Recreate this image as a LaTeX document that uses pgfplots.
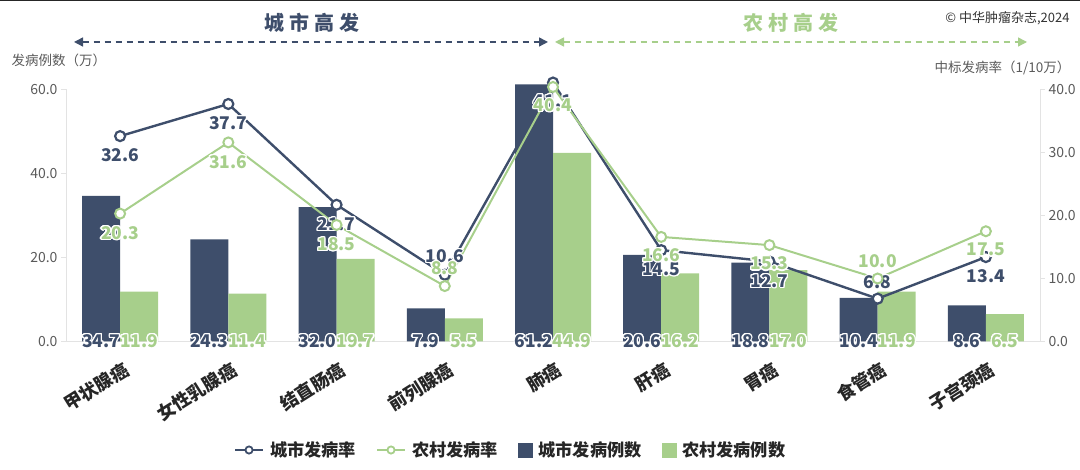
\documentclass[border=0pt]{standalone}
\usepackage{pgfplots}
\pgfplotsset{compat=1.18}
\usepackage{pgfplotstable}
\usepackage{fontspec}
\setmainfont{Noto Sans CJK SC}
\usepackage[copies]{contour}
\contourlength{1.1pt}
\usetikzlibrary{arrows.meta}
\definecolor{navy}{HTML}{3E4E6B}
\definecolor{lgreen}{HTML}{A7CF8B}
\definecolor{axgray}{HTML}{E3E3E3}
\definecolor{txtgray}{HTML}{5A5A5A}

\pgfplotstableread{
x z urban rural urate rrate udy rdy
0 0 34.7 11.9 32.6 20.3 -20 -20
1 0 24.3 11.4 37.7 31.6 -20 -20
2 0 32.0 19.7 21.7 18.5 -20 -20
3 0 7.9 5.5 10.6 8.8 18 17
4 0 61.2 44.9 41.1 40.4 -19 -19
5 0 20.6 16.2 14.5 16.6 -20 -19
6 0 18.8 17.0 12.7 15.3 -20 -19
7 0 10.4 11.9 6.8 10.0 16 17
8 0 8.6 6.5 13.4 17.5 -20 -19
}\data

\begin{document}
\begin{tikzpicture}
\path[use as bounding box] (0pt,0pt) rectangle (1080pt,470pt);
\draw[black!85, line width=2pt] (0pt,470pt) -- (1080pt,470pt);

\node[text=navy, font=\fontsize{20}{24}\selectfont\bfseries] at (312pt,447pt) {城\hspace{5pt}市\hspace{5pt}高\hspace{5pt}发};
\node[text=lgreen, font=\fontsize{20}{24}\selectfont\bfseries] at (791pt,447pt) {农\hspace{5pt}村\hspace{5pt}高\hspace{5pt}发};
\draw[navy, line width=1.4pt, dash pattern=on 6pt off 5pt, {Triangle[length=9pt,width=9pt]}-{Triangle[length=9pt,width=9pt]}] (74pt,428pt) -- (548pt,428pt);
\draw[lgreen, line width=1.4pt, dash pattern=on 6pt off 5pt, {Triangle[length=9pt,width=9pt]}-{Triangle[length=9pt,width=9pt]}] (555pt,428pt) -- (1027pt,428pt);
\node[anchor=east, text=black!80, font=\fontsize{13}{15}\selectfont] at (1073pt,452pt) {© 中华肿瘤杂志,2024};
\node[anchor=west, text=txtgray, font=\fontsize{13.5}{15}\selectfont] at (8pt,410pt) {发病例数（万）};
\node[anchor=east, text=txtgray, font=\fontsize{13.5}{15}\selectfont] at (1074pt,402pt) {中标发病率（1/10万）};

\begin{axis}[
  at={(66pt,128.5pt)}, anchor=south west,
  scale only axis, width=974pt, height=252pt,
  xmin=-0.5, xmax=8.5, ymin=0, ymax=60,
  clip=false,
  axis y line*=left, axis x line*=bottom,
  axis line style={draw=axgray, line width=1pt},
  xtick={0,...,8},
  xticklabels={甲状腺癌,女性乳腺癌,结直肠癌,前列腺癌,肺癌,肝癌,胃癌,食管癌,子宫颈癌},
  x tick style={draw=none},
  x tick label style={xshift=3pt, yshift=-9pt, rotate=32, anchor=north east, font=\fontsize{18}{20}\selectfont\bfseries, text=black!85},
  ytick={0,20,40,60},
  y tick style={draw=axgray, line width=1pt},
  tick align=outside, major tick length=5pt,
  y tick label style={font=\fontsize{14}{16}\selectfont, text=txtgray},
  yticklabel style={/pgf/number format/.cd, fixed, fixed zerofill, precision=1, assume math mode=true},
]
\addplot[ybar, bar width=38pt, bar shift=-19pt, fill=navy, draw=none] table[x=x,y=urban] {\data};
\addplot[ybar, bar width=38pt, bar shift=19pt, fill=lgreen, draw=none] table[x=x,y=rural] {\data};
\addplot[draw=none, mark=none, point meta=explicit,
  nodes near coords={\contour{white}{\pgfmathprintnumber[fixed,fixed zerofill,precision=1,assume math mode=true]{\pgfplotspointmeta}}},
  nodes near coords style={anchor=center, xshift=-19pt, text=navy, font=\fontsize{17.5}{20}\selectfont\bfseries}]
  table[x=x,y=z,meta=urban] {\data};
\addplot[draw=none, mark=none, point meta=explicit,
  nodes near coords={\contour{white}{\pgfmathprintnumber[fixed,fixed zerofill,precision=1,assume math mode=true]{\pgfplotspointmeta}}},
  nodes near coords style={anchor=center, xshift=19pt, text=lgreen, font=\fontsize{17.5}{20}\selectfont\bfseries}]
  table[x=x,y=z,meta=rural] {\data};
\end{axis}

\begin{axis}[
  at={(66pt,128.5pt)}, anchor=south west,
  scale only axis, width=974pt, height=252pt,
  xmin=-0.5, xmax=8.5, ymin=0, ymax=40,
  clip=false,
  axis x line=none, axis y line*=right,
  axis line style={draw=axgray, line width=1pt},
  ytick={0,10,20,30,40},
  y tick style={draw=axgray, line width=1pt},
  tick align=outside, major tick length=5pt,
  y tick label style={font=\fontsize{14}{16}\selectfont, text=txtgray},
  yticklabel style={/pgf/number format/.cd, fixed, fixed zerofill, precision=1, assume math mode=true},
  legend style={at={(0.456,-0.4306)}, anchor=center, draw=none, fill=none,
    legend columns=4, font=\fontsize{17.2}{20}\selectfont\bfseries, text=black!85,
    nodes={inner sep=1pt},
    /tikz/every even column/.append style={column sep=19pt},
    /tikz/every odd column/.append style={column sep=5pt}},
  legend cell align=left,
]
\addplot[navy, line width=2.4pt, mark=*, mark size=5pt, mark options={fill=white, draw=navy, line width=2.2pt}, forget plot] table[x=x,y=urate] {\data};
\addplot[draw=none, mark=none, forget plot, point meta=explicit,
  visualization depends on={\thisrow{udy} \as \dy},
  nodes near coords={\contour{white}{\pgfmathprintnumber[fixed,fixed zerofill,precision=1,assume math mode=true]{\pgfplotspointmeta}}},
  nodes near coords style={anchor=center, yshift=\dy pt, text=navy, font=\fontsize{17.5}{20}\selectfont\bfseries}]
  table[x=x,y=urate,meta=urate] {\data};
\addplot[lgreen, line width=2pt, mark=*, mark size=5pt, mark options={fill=white, draw=lgreen, line width=2pt}, forget plot] table[x=x,y=rrate] {\data};
\addplot[draw=none, mark=none, forget plot, point meta=explicit,
  visualization depends on={\thisrow{rdy} \as \dy},
  nodes near coords={\contour{white}{\pgfmathprintnumber[fixed,fixed zerofill,precision=1,assume math mode=true]{\pgfplotspointmeta}}},
  nodes near coords style={anchor=center, yshift=\dy pt, text=lgreen, font=\fontsize{17.5}{20}\selectfont\bfseries}]
  table[x=x,y=rrate,meta=rrate] {\data};
\addlegendimage{legend image code/.code={\draw[navy, line width=2pt] (0pt,0pt) -- (28pt,0pt); \draw[navy, line width=1.8pt, fill=white] (14pt,0pt) circle (3.6pt);}}
\addlegendentry{城市发病率}
\addlegendimage{legend image code/.code={\draw[lgreen, line width=2pt] (0pt,0pt) -- (28pt,0pt); \draw[lgreen, line width=1.8pt, fill=white] (14pt,0pt) circle (3.6pt);}}
\addlegendentry{农村发病率}
\addlegendimage{legend image code/.code={\fill[navy] (0pt,-7pt) rectangle (14pt,7pt);}}
\addlegendentry{城市发病例数}
\addlegendimage{legend image code/.code={\fill[lgreen] (0pt,-7pt) rectangle (14pt,7pt);}}
\addlegendentry{农村发病例数}
\end{axis}
\end{tikzpicture}
\end{document}
